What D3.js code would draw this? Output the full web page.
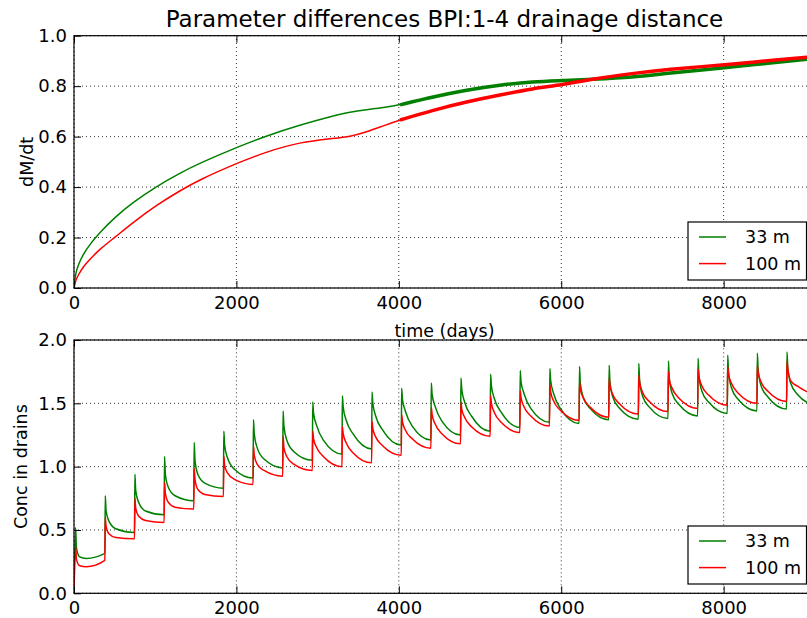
<!DOCTYPE html>
<html>
<head>
<meta charset="utf-8">
<script src="https://cdn.jsdelivr.net/npm/d3@7"></script>
<style>
body { margin: 0; background: #fff; }
text { font-family: "DejaVu Sans", sans-serif; fill: #000; }
</style>
</head>
<body>
<div id="chart"></div>
<script>
var seriesNames = ["33 m", "100 m"];
var seriesColors = ["#008000", "#ff0000"];
var xTicks = [0, 2000, 4000, 6000, 8000];
var topYTicks = [0, 0.2, 0.4, 0.6, 0.8, 1.0];
var bottomYTicks = [0, 0.5, 1.0, 1.5, 2.0];

// upper panel, dM/dt
var flowDays = [0, 20, 50, 115, 200, 320, 500, 730, 1000, 1300, 1550, 2000, 2370, 2780, 3190, 3400,
    3600, 3810, 4015, 4425, 4835, 5245, 5655, 6015, 6355, 6890, 7300, 8010, 8530, 9125];
var flow33 = [0, 0.06, 0.09, 0.135, 0.175, 0.22, 0.28, 0.34, 0.40, 0.455, 0.495, 0.557, 0.603, 0.646, 0.682, 0.698,
    0.707, 0.715, 0.726, 0.758, 0.785, 0.805, 0.818, 0.822, 0.827, 0.835, 0.851, 0.873, 0.89, 0.91];
var flow100 = [0, 0.03, 0.05, 0.085, 0.115, 0.155, 0.20, 0.26, 0.325, 0.385, 0.43, 0.494, 0.54, 0.578, 0.593, 0.60,
    0.618, 0.643, 0.666, 0.705, 0.738, 0.765, 0.791, 0.805, 0.827, 0.851, 0.867, 0.884, 0.901, 0.917];

// lower panel, conc in drains: one row per yearly flush, values at afterFlush days
var flushDays = [20, 385, 750, 1115, 1480, 1845, 2210, 2575, 2940, 3305, 3670, 4035, 4400,
    4765, 5130, 5495, 5860, 6225, 6590, 6955, 7320, 7685, 8050, 8415, 8780];
var afterFlush = [0, 10, 45, 130, 360];
var conc33 = [
    [0.52, 0.36, 0.29, 0.275, 0.315], [0.77, 0.65, 0.57, 0.51, 0.48], [0.94, 0.81, 0.72, 0.65, 0.62],
    [1.08, 0.94, 0.84, 0.77, 0.73], [1.19, 1.05, 0.94, 0.87, 0.83], [1.28, 1.17, 1.07, 0.98, 0.91],
    [1.37, 1.26, 1.15, 1.06, 0.99], [1.44, 1.32, 1.21, 1.12, 1.05], [1.51, 1.42, 1.33, 1.21, 1.10],
    [1.56, 1.47, 1.37, 1.26, 1.14], [1.59, 1.50, 1.40, 1.29, 1.17], [1.62, 1.53, 1.44, 1.32, 1.21],
    [1.66, 1.57, 1.48, 1.36, 1.25], [1.70, 1.61, 1.51, 1.40, 1.28], [1.73, 1.64, 1.54, 1.43, 1.31],
    [1.76, 1.67, 1.58, 1.46, 1.35], [1.775, 1.68, 1.58, 1.46, 1.34], [1.79, 1.66, 1.55, 1.46, 1.37],
    [1.80, 1.67, 1.55, 1.46, 1.375], [1.815, 1.685, 1.56, 1.47, 1.38], [1.835, 1.705, 1.58, 1.49, 1.40],
    [1.855, 1.725, 1.60, 1.51, 1.42], [1.88, 1.75, 1.625, 1.53, 1.44], [1.895, 1.765, 1.64, 1.55, 1.455],
    [1.905, 1.78, 1.66, 1.57, 1.48]
];
var conc100 = [
    [0.37, 0.27, 0.22, 0.21, 0.26], [0.60, 0.53, 0.47, 0.44, 0.43], [0.75, 0.67, 0.61, 0.575, 0.56],
    [0.875, 0.79, 0.72, 0.68, 0.665], [0.985, 0.90, 0.82, 0.78, 0.765], [1.08, 1.01, 0.95, 0.90, 0.86],
    [1.165, 1.09, 1.02, 0.97, 0.925], [1.24, 1.15, 1.08, 1.02, 0.97], [1.28, 1.22, 1.155, 1.08, 1.00],
    [1.315, 1.26, 1.19, 1.11, 1.03], [1.355, 1.30, 1.235, 1.165, 1.09], [1.41, 1.355, 1.29, 1.22, 1.145],
    [1.47, 1.41, 1.34, 1.26, 1.18], [1.51, 1.455, 1.39, 1.315, 1.24], [1.56, 1.50, 1.43, 1.35, 1.27],
    [1.60, 1.545, 1.475, 1.40, 1.32], [1.645, 1.59, 1.52, 1.445, 1.365], [1.67, 1.615, 1.545, 1.47, 1.39],
    [1.70, 1.645, 1.57, 1.495, 1.415], [1.72, 1.665, 1.59, 1.515, 1.435], [1.75, 1.69, 1.62, 1.54, 1.46],
    [1.77, 1.715, 1.64, 1.565, 1.485], [1.79, 1.73, 1.66, 1.58, 1.50], [1.80, 1.745, 1.67, 1.595, 1.515],
    [1.83, 1.775, 1.68, 1.635, 1.56]
];

var width = 807,
    height = 618,
    left = 74,
    right = 815; // axes run a bit past the picture edge

var x = d3.scaleLinear().domain([0, 9125]).range([left, right]);
var yTop = d3.scaleLinear().domain([0, 1]).range([288, 35.7]);
var yBot = d3.scaleLinear().domain([0, 2]).range([593.3, 340]);

var svg = d3.select("#chart").append("svg")
    .attr("width", width)
    .attr("height", height);

svg.append("text")
    .attr("x", (left + right) / 2)
    .attr("y", 27)
    .attr("text-anchor", "middle")
    .style("font-size", "23px")
    .text("Parameter differences BPI:1-4 drainage distance");

function panel(y, yTicks, yLabel, labelX) {
    var y0 = y.range()[0], y1 = y.range()[1];
    var id = "clip" + Math.round(y0);
    var g = svg.append("g");

    svg.append("clipPath").attr("id", id)
      .append("rect")
        .attr("x", left).attr("y", y1)
        .attr("width", right - left).attr("height", y0 - y1);

    g.selectAll(".vgrid").data(xTicks).enter().append("line")
        .attr("x1", function(d) { return x(d); })
        .attr("x2", function(d) { return x(d); })
        .attr("y1", y0).attr("y2", y1)
        .attr("stroke", "#000").attr("stroke-width", 0.8).attr("stroke-dasharray", "1,3");
    g.selectAll(".hgrid").data(yTicks).enter().append("line")
        .attr("x1", left).attr("x2", right)
        .attr("y1", function(d) { return y(d); })
        .attr("y2", function(d) { return y(d); })
        .attr("stroke", "#000").attr("stroke-width", 0.8).attr("stroke-dasharray", "1,3");

    var plot = g.append("g").attr("clip-path", "url(#" + id + ")");

    g.append("g")
        .attr("transform", "translate(0," + y0 + ")")
        .call(d3.axisBottom(x).tickValues(xTicks).tickFormat(d3.format("d"))
            .tickSizeInner(-7).tickSizeOuter(0).tickPadding(8));
    g.append("g")
        .attr("transform", "translate(0," + y1 + ")")
        .call(d3.axisTop(x).tickValues(xTicks).tickFormat("")
            .tickSizeInner(-7).tickSizeOuter(0));
    g.append("g")
        .attr("transform", "translate(" + left + ",0)")
        .call(d3.axisLeft(y).tickValues(yTicks).tickFormat(d3.format(".1f"))
            .tickSizeInner(-7).tickSizeOuter(0).tickPadding(7));
    g.selectAll(".domain").remove();
    g.selectAll(".tick line").attr("stroke", "#000");
    g.selectAll(".tick text").style("font-size", "18px").attr("fill", "#000");

    g.append("rect")
        .attr("x", left).attr("y", y1)
        .attr("width", right - left).attr("height", y0 - y1)
        .attr("fill", "none").attr("stroke", "#000").attr("stroke-width", 1.2);

    g.append("text")
        .attr("transform", "translate(" + labelX + "," + (y0 + y1) / 2 + ") rotate(-90)")
        .attr("text-anchor", "middle")
        .style("font-size", "17.5px")
        .text(yLabel);

    return { g: g, plot: plot };
}

function legend(p, boxTop) {
    var lg = p.g.append("g").attr("transform", "translate(688," + boxTop + ")");
    lg.append("rect")
        .attr("width", 118.5).attr("height", 58)
        .attr("fill", "#fff").attr("stroke", "#000").attr("stroke-width", 1.2);
    seriesNames.forEach(function(name, i) {
        var ly = 15 + i * 26.6;
        lg.append("line")
            .attr("x1", 11).attr("x2", 38).attr("y1", ly).attr("y2", ly)
            .attr("stroke", seriesColors[i]).attr("stroke-width", 1.5);
        lg.append("text")
            .attr("x", 57).attr("y", ly).attr("dy", "0.35em")
            .style("font-size", "17.5px")
            .text(name);
    });
}

// upper panel
var upper = panel(yTop, topYTicks, "dM/dt", 33);
var flowLine = d3.line()
    .x(function(d) { return x(d[0]); })
    .y(function(d) { return yTop(d[1]); })
    .curve(d3.curveBasis);

[flow33, flow100].forEach(function(vals, i) {
    var pts = flowDays.map(function(t, j) { return [t, vals[j]]; });
    upper.plot.append("path")
        .attr("d", flowLine(pts))
        .attr("fill", "none").attr("stroke", seriesColors[i]).attr("stroke-width", 1.5);
    // later years wobble daily, which draws as a thick band
    upper.plot.append("path")
        .attr("d", flowLine(pts.filter(function(d) { return d[0] >= 4000; })))
        .attr("fill", "none").attr("stroke", seriesColors[i]).attr("stroke-width", 3.5);
});
legend(upper, 222);

// lower panel
svg.append("text")
    .attr("x", (left + right) / 2)
    .attr("y", 337)
    .attr("text-anchor", "middle")
    .style("font-size", "17.5px")
    .text("time (days)");

var lower = panel(yBot, bottomYTicks, "Conc in drains", 27);
var concLine = d3.line()
    .x(function(d) { return x(d[0]); })
    .y(function(d) { return yBot(d[1]); })
    .curve(d3.curveMonotoneX);

[conc33, conc100].forEach(function(rows, i) {
    var pts = [[0, 0]];
    rows.forEach(function(r, k) {
        afterFlush.forEach(function(off, j) { pts.push([flushDays[k] + off, r[j]]); });
    });
    lower.plot.append("path")
        .attr("d", concLine(pts))
        .attr("fill", "none").attr("stroke", seriesColors[i]).attr("stroke-width", 1.5);
});
legend(lower, 526);
</script>
</body>
</html>
